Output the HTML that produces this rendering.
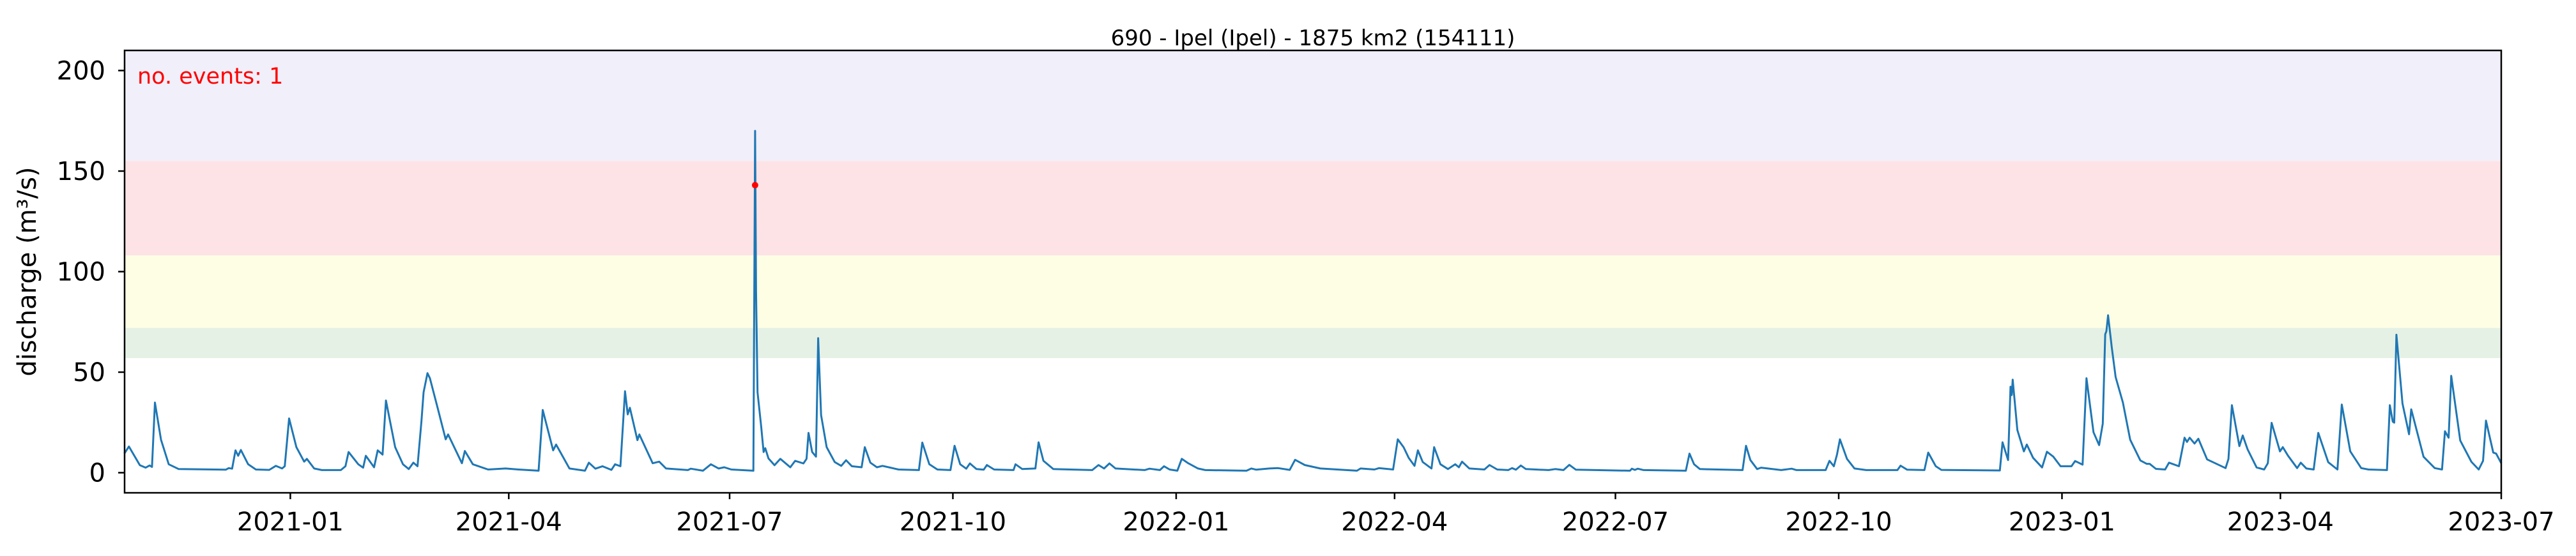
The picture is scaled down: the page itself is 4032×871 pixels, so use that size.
<!DOCTYPE html>
<html><head><meta charset="utf-8"><title>690 - Ipel discharge</title>
<style>
html,body{margin:0;padding:0;background:#fff;}
svg{display:block;font-family:"DejaVu Sans","Liberation Sans",sans-serif;}
</style></head>
<body>
<svg id="chart" width="4032" height="871" viewBox="0 0 4032 871" xmlns="http://www.w3.org/2000/svg">
<rect x="0" y="0" width="4032" height="871" fill="#ffffff"/>
<text x="2055" y="71" font-size="34" text-anchor="middle" fill="#000">690 - Ipel (Ipel) - 1875 km2 (154111)</text>
<g id="bands"></g>
<g id="grid"></g>
<g id="series"></g>
<rect x="195" y="79" width="3720" height="693" fill="none" stroke="#000" stroke-width="2.5"/>
<text x="215" y="131" font-size="35" fill="#ff0000">no. events: 1</text>
<text transform="translate(56,425.5) rotate(-90)" font-size="40" text-anchor="middle" fill="#000">discharge (m³/s)</text>
</svg>
<script>
// ---- data (days since 2021-01-01, discharge m3/s) ----
const days = [-68.4,-66.5,-62,-59.6,-58,-57,-55.8,-53.3,-50.1,-46,-26.6,-25.4,-24,-22.6,-21.5,-20.4,-17.4,-14.2,-8.7,-6,-3.4,-2.3,-0.5,2.5,5.7,6.8,9.8,13,20.8,22.7,24,28,30,31.1,34.5,36,38,39.4,43.2,46.4,48.8,50.7,52.4,54,54.9,56.5,57.5,60.8,64,65,70.7,71.9,75.2,81.5,88.7,94,102.3,104,108.3,109.5,115,121.4,123,125.7,128.6,132.3,133.8,136,137.9,139,139.9,143,143.8,149.3,152,154.8,163.8,165,170,173.3,176.5,178.8,181.7,
190.8,191.5,191.9,192.5,194,195,195.7,197,199.5,201.9,206,208,211.4,212.7,213.5,215,216.6,217.5,218.7,221,224.3,227,229,231.4,235.4,236.7,239,241.7,244,250.6,259,260.4,263.3,266.6,272,273.7,276,278.5,280,282.7,285.7,287,290,298,298.8,301.6,307,308.3,310.3,314.4,330.4,333,335.3,337.5,340,352,354,358.3,360,362.3,365.5,367.3,370,374,377,394,396,398,403.4,407,411.8,414,418,424.4,
439.5,441,446.7,448.6,454.4,456.3,458.7,460.8,463.2,464.6,466.6,470.2,471.3,473.9,477,480,481.5,482.8,485.8,492,494.1,497.3,501.8,503.4,505,507,509.1,518.5,521.2,524.6,527,529.7,552,552.8,554,555.2,557.6,575,576.5,578.4,580.8,598.4,599.8,601.6,604.4,606,614.3,618.6,620.6,632.6,634.2,636,637.3,638.5,641.4,644.5,649.3,662.2,663.5,666.2,673.3,674.9,678,680.3,
704.4,705.5,707.8,708.8,709.3,709.7,711.6,714.3,715.5,718.1,721.8,723.8,726.4,729.4,733.9,735.4,738.5,740.1,743,745.3,746.8,747.8,748.3,749,750.5,752.1,755.1,758.1,762.3,764.9,766.1,768.7,772.5,774.1,778.2,780.5,781.5,782.6,784.6,786.2,789.8,797.4,798.6,800,803.1,804.5,806.5,810.2,813.3,814.8,816.4,819.8,821,823.1,826.9,828.4,830.7,833.7,835.6,839.7,843.5,845.3,848.8,853.3,856.3,863.9,865.1,866.3,866.9,867.8,870.3,873,873.9,879,883.6,886.6,887.8,889.3,890.4,894.1,898.7,901.7,903.5,904.7,907.7,908.9,911];
const values = [9.5,13,3.7,2.5,3.6,2.9,34.9,16.4,4.2,1.8,1.5,2.3,2,11.1,8.4,11.3,4.2,1.6,1.4,3.4,2.1,3.2,27,12.7,5.5,6.9,2.1,1.3,1.3,3.2,10.3,4.2,2.5,8.4,2.7,11.1,9,35.9,12.7,4.2,1.8,5,3.2,25.4,40,49.5,47,31.7,16.6,19,4.7,10.8,4.2,1.6,2.1,1.6,1,31.2,11.1,14,2.1,1,5,2,3.2,1.4,4.2,3.2,40.5,29,32.3,16.2,19,4.7,5.5,2.1,1.3,2,1,4.2,2.1,2.7,1.6,
1,170,90,40,23,10.3,12.2,7.1,3.7,6.9,2.7,5.9,4.6,6.9,19.8,10.3,8,66.9,28.6,12.7,5.3,3.4,6.2,3.2,2.7,12.7,5,2.7,3.4,1.6,1.3,15,4.2,1.6,1.3,13.4,4.2,2,4.6,1.8,1.5,3.8,1.6,1.3,4.2,1.8,2.1,15.1,5.9,1.8,1.3,3.8,2.1,4.6,2.1,1.3,2,1.3,3.2,1.6,1,6.9,4.7,2.1,1.3,1,2.1,1.5,2.1,2.3,1.4,6.4,3.8,2.1,
1,2.1,1.6,2.3,1.6,16.6,12.7,7.4,3.4,11.1,5.3,2.1,12.7,4.2,1.8,4.2,2.7,5.5,2.1,1.6,3.8,1.6,1.3,2.3,1.5,3.6,1.8,1.3,1.8,1.3,3.9,1.5,1,2,1.4,2,1.3,1,9.5,4.2,1.8,1.3,13.4,6.3,1.8,2.5,1.3,2,1.3,1.3,5.9,3.2,9,16.6,6.9,2.1,1.3,1.3,3.5,1.5,1.3,10,3.2,1.4,
1.1,15.1,6.3,42.8,38.6,46.3,21.2,10.6,14,7.4,2.6,10.4,8,3.2,3.2,5.8,4,47,20.1,13.7,24.4,68.8,70.4,78.3,62.5,47.6,34.9,16.4,6.1,4.4,4.4,1.9,1.6,5,3.2,17.4,15.3,17.4,14.5,16.9,6.6,2.3,6.8,33.6,13.2,18.5,11.6,2.6,1.6,4.7,24.8,10.6,12.7,8.5,2.3,5,2.1,1.6,19.8,5.2,1.6,33.9,10.6,2.3,1.6,1.3,33.6,25.4,24.9,68.6,34.4,19.1,31.5,7.9,2.3,1.6,20.6,17.4,48.2,16,5.4,1.6,5.9,25.9,10,9.5,4.7];
const eventDays = [191.5];
const eventValues = [143];
const yTicks = [0,50,100,150,200];
const xTickLabels = ["2021-01","2021-04","2021-07","2021-10","2022-01","2022-04","2022-07","2022-10","2023-01","2023-04","2023-07"];
const bandLows = [155,108,72,57];
const bandHighs = [210,155,108,72];
const bandColors = ["#f1eff9","#fde3e5","#fefee4","#e5f1e5"];

// ---- axes ----
const L=195,R=3915,T=79,B=772;
const xMin=-68.3,xMax=911,yMin=-10,yMax=210;
const xs=d=>L+(d-xMin)/(xMax-xMin)*(R-L);
const ys=v=>B-(v-yMin)/(yMax-yMin)*(B-T);
const base=Date.UTC(2021,0,1);
const dayOf=s=>(Date.UTC(+s.slice(0,4),+s.slice(5,7)-1,1)-base)/86400000;
const NS="http://www.w3.org/2000/svg";
function mk(tag,attrs,parent){const e=document.createElementNS(NS,tag);for(const k in attrs)e.setAttribute(k,attrs[k]);parent.appendChild(e);return e;}

const bands=document.getElementById('bands');
bandLows.forEach((lo,i)=>{
  const r=mk('rect',{x:L,y:ys(bandHighs[i]),width:R-L,height:ys(lo)-ys(bandHighs[i]),fill:bandColors[i]},bands);
  
  
});

const g=document.getElementById('grid');
yTicks.forEach(v=>{
  const y=ys(v);
  const t=mk('line',{x1:L-10,x2:L,y1:y,y2:y,stroke:'#000','stroke-width':2.5},g);
  
  
  const lb=mk('text',{x:L-30,y:y+14,'font-size':40,'text-anchor':'end',fill:'#000'},g);
  lb.textContent=v;
  
  
});
xTickLabels.forEach(s=>{
  const x=xs(dayOf(s));
  const t=mk('line',{x1:x,x2:x,y1:B,y2:B+10,stroke:'#000','stroke-width':2.5},g);
  
  
  const lb=mk('text',{x:x,y:831,'font-size':40,'text-anchor':'middle',fill:'#000'},g);
  lb.textContent=s;
  
  
});

// ---- series ----
const sg=document.getElementById('series');
const pts=days.map((d,i)=>xs(d).toFixed(1)+','+ys(values[i]).toFixed(1)).join(' ');
const line=mk('polyline',{points:pts,fill:'none',stroke:'#1f77b4','stroke-width':3,'stroke-linejoin':'round'},sg);


eventDays.forEach((d,i)=>{
  const c=mk('circle',{cx:xs(d),cy:ys(eventValues[i]),r:5,fill:'#ff0000'},sg);
  
  
});
</script>
</body></html>
